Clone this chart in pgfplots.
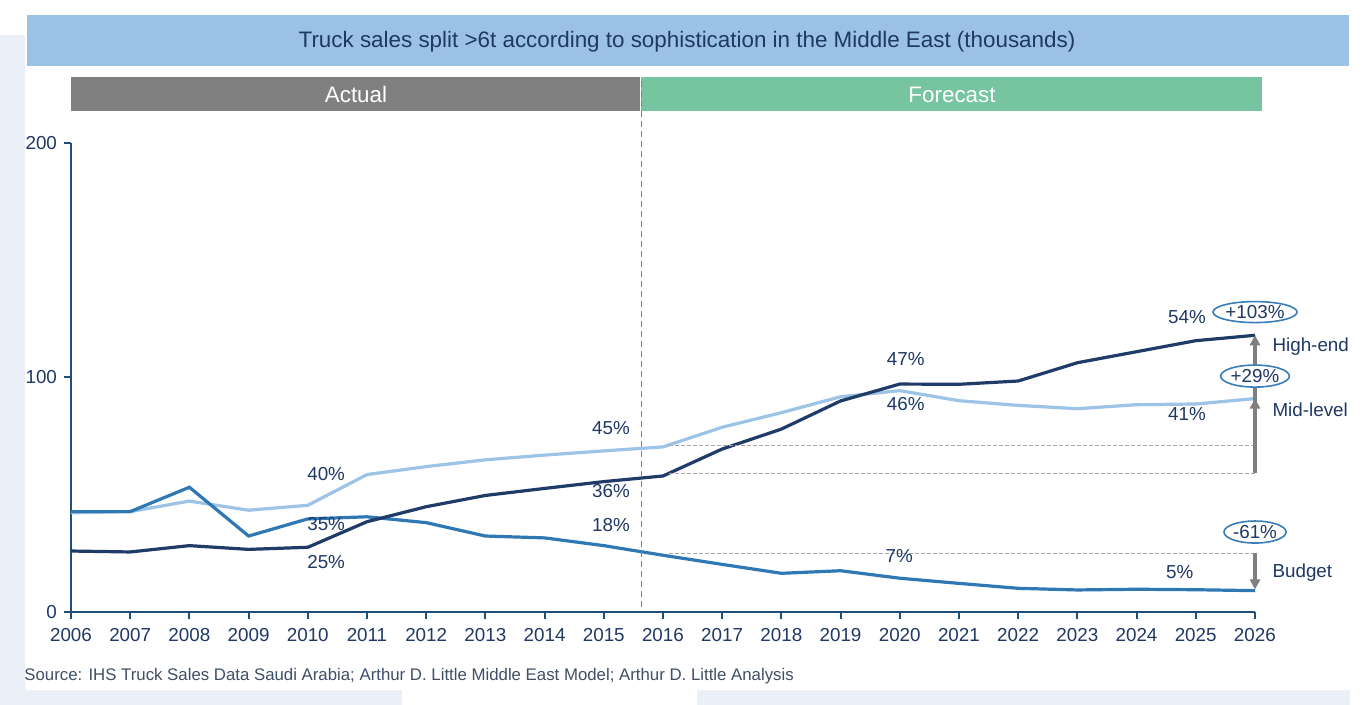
\documentclass[border=0pt]{standalone}
\usepackage{fontspec}
\setmainfont{Liberation Sans}
\usepackage{pgfplots}
\pgfplotsset{compat=1.18}
\usetikzlibrary{arrows.meta,shapes.geometric}
\definecolor{bgl}{HTML}{EBEFF7}
\definecolor{titlebar}{HTML}{9BC2E4}
\definecolor{navy}{HTML}{1F3864}
\definecolor{axisblue}{HTML}{1F4E79}
\definecolor{actualgray}{HTML}{808080}
\definecolor{fcgreen}{HTML}{76C4A0}
\definecolor{highc}{HTML}{1F3B68}
\definecolor{midc}{HTML}{9DC3E6}
\definecolor{budc}{HTML}{2F78B4}
\definecolor{ellc}{HTML}{3A7DB8}
\definecolor{srcc}{HTML}{3F4F66}
\definecolor{arrgray}{HTML}{7F7F7F}
\definecolor{dashgray}{HTML}{A6A6A6}

\pgfplotstableread{
year high mid bud
2006 26.0 42.3 42.8
2007 25.6 42.8 42.8
2008 28.3 47.3 53.2
2009 26.7 43.4 32.4
2010 27.6 45.5 39.7
2011 38.5 58.6 40.6
2012 44.9 62.0 38.1
2013 49.7 64.9 32.4
2014 52.7 66.9 31.6
2015 55.6 68.7 28.3
2016 58.0 70.4 24.2
2017 69.5 78.8 20.3
2018 78.0 85.0 16.5
2019 90.0 91.8 17.6
2020 97.2 94.4 14.4
2021 97.1 90.1 12.2
2022 98.5 88.1 10.1
2023 106.3 86.7 9.4
2024 111.0 88.4 9.7
2025 115.7 88.7 9.5
2026 118.0 91.0 9.1
}\datatable

\begin{document}
\begin{tikzpicture}[font=\fontsize{9.4}{11}\selectfont]
\fill[white] (0,0) rectangle (681.5pt,352.5pt);
\fill[bgl] (0,0) rectangle (12.5pt,335pt);
\fill[bgl] (0,0) rectangle (201pt,7.5pt);
\fill[bgl] (348.5pt,0) rectangle (675pt,7.5pt);
\fill[titlebar] (13.5pt,319.5pt) rectangle (674.5pt,345pt);
\node[text=navy, font=\fontsize{11.2}{13}\selectfont] at (343.5pt,331.5pt) {Truck sales split >6t according to sophistication in the Middle East (thousands)};
\fill[actualgray] (35.5pt,297pt) rectangle (320pt,314pt);
\node[text=white, font=\fontsize{11.2}{13}\selectfont] at (178pt,305pt) {Actual};
\fill[fcgreen] (320.5pt,297pt) rectangle (631pt,314pt);
\node[text=white, font=\fontsize{11.2}{13}\selectfont] at (476pt,305pt) {Forecast};
\node[anchor=west, text=srcc, font=\fontsize{8.4}{10}\selectfont, inner sep=0pt] at (12pt,14.5pt) {Source: IHS Truck Sales Data Saudi Arabia; Arthur D. Little Middle East Model; Arthur D. Little Analysis};

\begin{axis}[
  at={(35.5pt,46.5pt)}, anchor=south west,
  scale only axis, width=592pt, height=234.5pt,
  xmin=2006, xmax=2026, ymin=0, ymax=200,
  axis x line*=bottom, axis y line*=left,
  axis line style={axisblue, line width=1.2pt, -},
  xtick={2006,2007,...,2026}, ytick={0,100,200},
  tick align=outside, major tick length=3.5pt,
  tick style={axisblue, line width=1pt},
  /pgf/number format/1000 sep={},
  /pgf/number format/assume math mode=true,
  ticklabel style={text=navy, font=\fontsize{9.4}{11}\selectfont},
  xticklabel style={yshift=-1pt},
  clip=false,
]
\addplot[midc, line width=1.6pt] table[x=year, y=mid] {\datatable};
\addplot[budc, line width=1.6pt] table[x=year, y=bud] {\datatable};
\addplot[highc, line width=1.6pt] table[x=year, y=high] {\datatable};

% vertical separator
\draw[arrgray, line width=0.6pt, dash pattern=on 3pt off 2pt] (axis cs:2015.63,2) -- (axis cs:2015.63,228);
% reference dashed lines
\draw[dashgray, line width=0.5pt, dash pattern=on 2pt off 1pt] (axis cs:2016.1,70.9) -- (axis cs:2026,70.9);
\draw[dashgray, line width=0.5pt, dash pattern=on 2pt off 1pt] (axis cs:2016.1,59.1) -- (axis cs:2026,59.1);
\draw[dashgray, line width=0.5pt, dash pattern=on 2pt off 1pt] (axis cs:2016.1,25.0) -- (axis cs:2026,25.0);
% arrows
\draw[arrgray, line width=2pt, -{Triangle[width=5pt,length=5pt]}] (axis cs:2026,59.1) -- (axis cs:2026,118);
\draw[arrgray, line width=2pt, -{Triangle[width=5pt,length=5pt]}] (axis cs:2026,70.9) -- (axis cs:2026,91);
\draw[arrgray, line width=2pt, -{Triangle[width=5pt,length=5pt]}] (axis cs:2026,25.0) -- (axis cs:2026,9.6);

% percentage labels
\begin{scope}[every node/.style={text=navy, inner sep=0pt}]
\node at (axis cs:2010.31,58.8) {40\%};
\node at (axis cs:2010.31,37.5) {35\%};
\node at (axis cs:2010.31,21.3) {25\%};
\node at (axis cs:2015.12,78.5) {45\%};
\node at (axis cs:2015.12,51.6) {36\%};
\node at (axis cs:2015.12,37.1) {18\%};
\node at (axis cs:2020.1,107.9) {47\%};
\node at (axis cs:2020.1,88.7) {46\%};
\node at (axis cs:2019.99,23.9) {7\%};
\node at (axis cs:2024.85,125.8) {54\%};
\node at (axis cs:2024.85,84.4) {41\%};
\node at (axis cs:2024.73,17.1) {5\%};
\node[anchor=west] at (axis cs:2026.29,113) {High-end};
\node[anchor=west] at (axis cs:2026.29,86.1) {Mid-level};
\node[anchor=west] at (axis cs:2026.29,16.8) {Budget};
\end{scope}
% ellipses
\begin{scope}[every node/.style={ellipse, draw=ellc, line width=0.8pt, fill=white, text=navy, inner sep=0pt, minimum height=11pt}]
\node[minimum width=42pt, minimum height=10.5pt] at (axis cs:2026,127.9) {+103\%};
\node[minimum width=34pt] at (axis cs:2026,100.6) {+29\%};
\node[minimum width=31pt] at (axis cs:2026,34.1) {-61\%};
\end{scope}
\end{axis}
\end{tikzpicture}
\end{document}
